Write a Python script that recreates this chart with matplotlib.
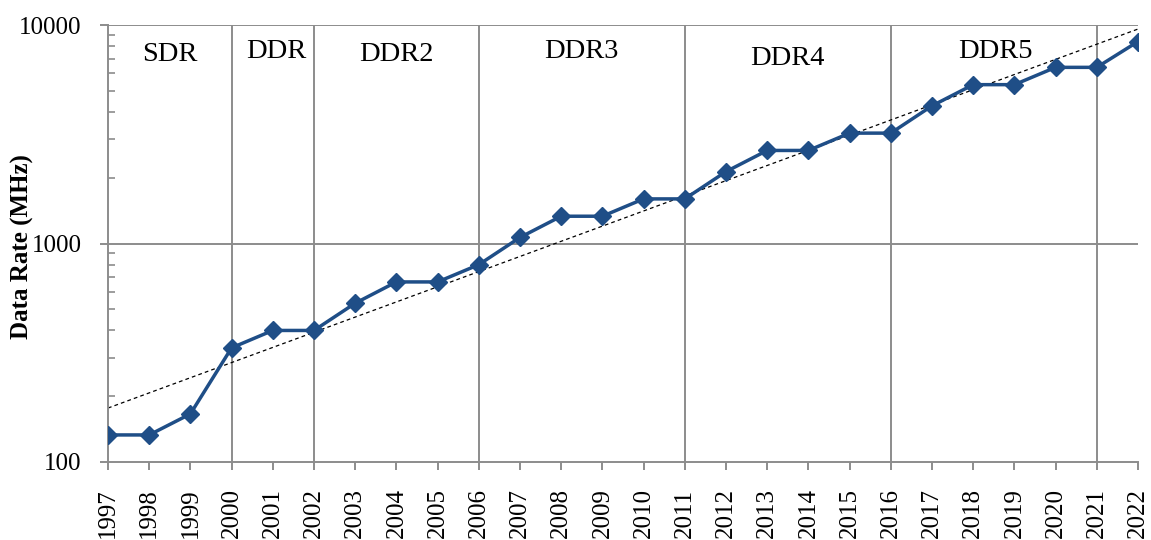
import numpy as np
from matplotlib import pyplot as plt
from matplotlib.ticker import LogLocator, NullFormatter

years = list(range(1997, 2023))
rate = [133, 133, 166, 333, 400, 400, 533, 667, 667, 800, 1066, 1333, 1333,
        1600, 1600, 2133, 2666, 2666, 3200, 3200, 4266, 5333, 5333, 6400, 6400, 8400]

gen_bounds = [2000, 2002, 2006, 2011, 2016, 2021]
gen_names = ['SDR', 'DDR', 'DDR2', 'DDR3', 'DDR4', 'DDR5']
gen_label_x = [1998.5, 2001.08, 2004.0, 2008.5, 2013.5, 2018.55]
gen_label_y = [7300, 7600, 7300, 7600, 7000, 7600]

plt.rcParams['font.family'] = ['Liberation Serif', 'DejaVu Serif']
grid_c = '#8c8c8c'
line_c = '#1f4e87'

fig = plt.figure(figsize=(11.51, 5.4), dpi=100)
ax = fig.add_axes([108 / 1151, 1 - 462 / 540, (1138 - 108) / 1151, (462 - 25) / 540])

# exponential trendline (least squares on log10)
coef = np.polyfit(years, np.log10(rate), 1)
tx = np.array([years[0], years[-1]])
ax.plot(tx, 10 ** np.polyval(coef, tx), ls=(0, (3, 2.5)), color='black', lw=0.9, zorder=2)

ax.plot(years, rate, color=line_c, lw=2.5, marker='D', markersize=9, zorder=3)

for b in gen_bounds:
    ax.axvline(b, color=grid_c, lw=1.4, zorder=1)
for yv in [1000, 10000]:
    ax.axhline(yv, color=grid_c, lw=1.4, zorder=1)

for name, gx, gy in zip(gen_names, gen_label_x, gen_label_y):
    ax.text(gx, gy, name, ha='center', va='center', fontsize=20.5)

ax.set_yscale('log')
ax.set_xlim(1997, 2022)
ax.set_ylim(100, 10000)
ax.set_yticks([100, 1000, 10000])
ax.set_yticklabels(['100', '1000', '10000'])
ax.yaxis.set_minor_locator(LogLocator(base=10, subs=np.arange(2, 10)))
ax.yaxis.set_minor_formatter(NullFormatter())
ax.set_xticks(years)
ax.set_xticklabels([str(y) for y in years], rotation=90)

ax.tick_params(axis='y', which='major', direction='out', length=6, color=grid_c, width=1.4, labelsize=18, pad=13)
ax.tick_params(axis='y', which='minor', direction='in', length=5, color=grid_c, width=1.2)
ax.tick_params(axis='x', which='major', direction='out', length=6, color=grid_c, width=1.4, labelsize=18, pad=13)

for s in ['top', 'right']:
    ax.spines[s].set_visible(False)
for s in ['left', 'bottom']:
    ax.spines[s].set_color(grid_c)
    ax.spines[s].set_linewidth(1.4)

fig.text(22 / 1151, 1 - 247 / 540, 'Data Rate (MHz)', rotation=90, ha='center', va='center',
         fontsize=18, fontweight='bold')

fig.savefig('out.png', dpi=100)
